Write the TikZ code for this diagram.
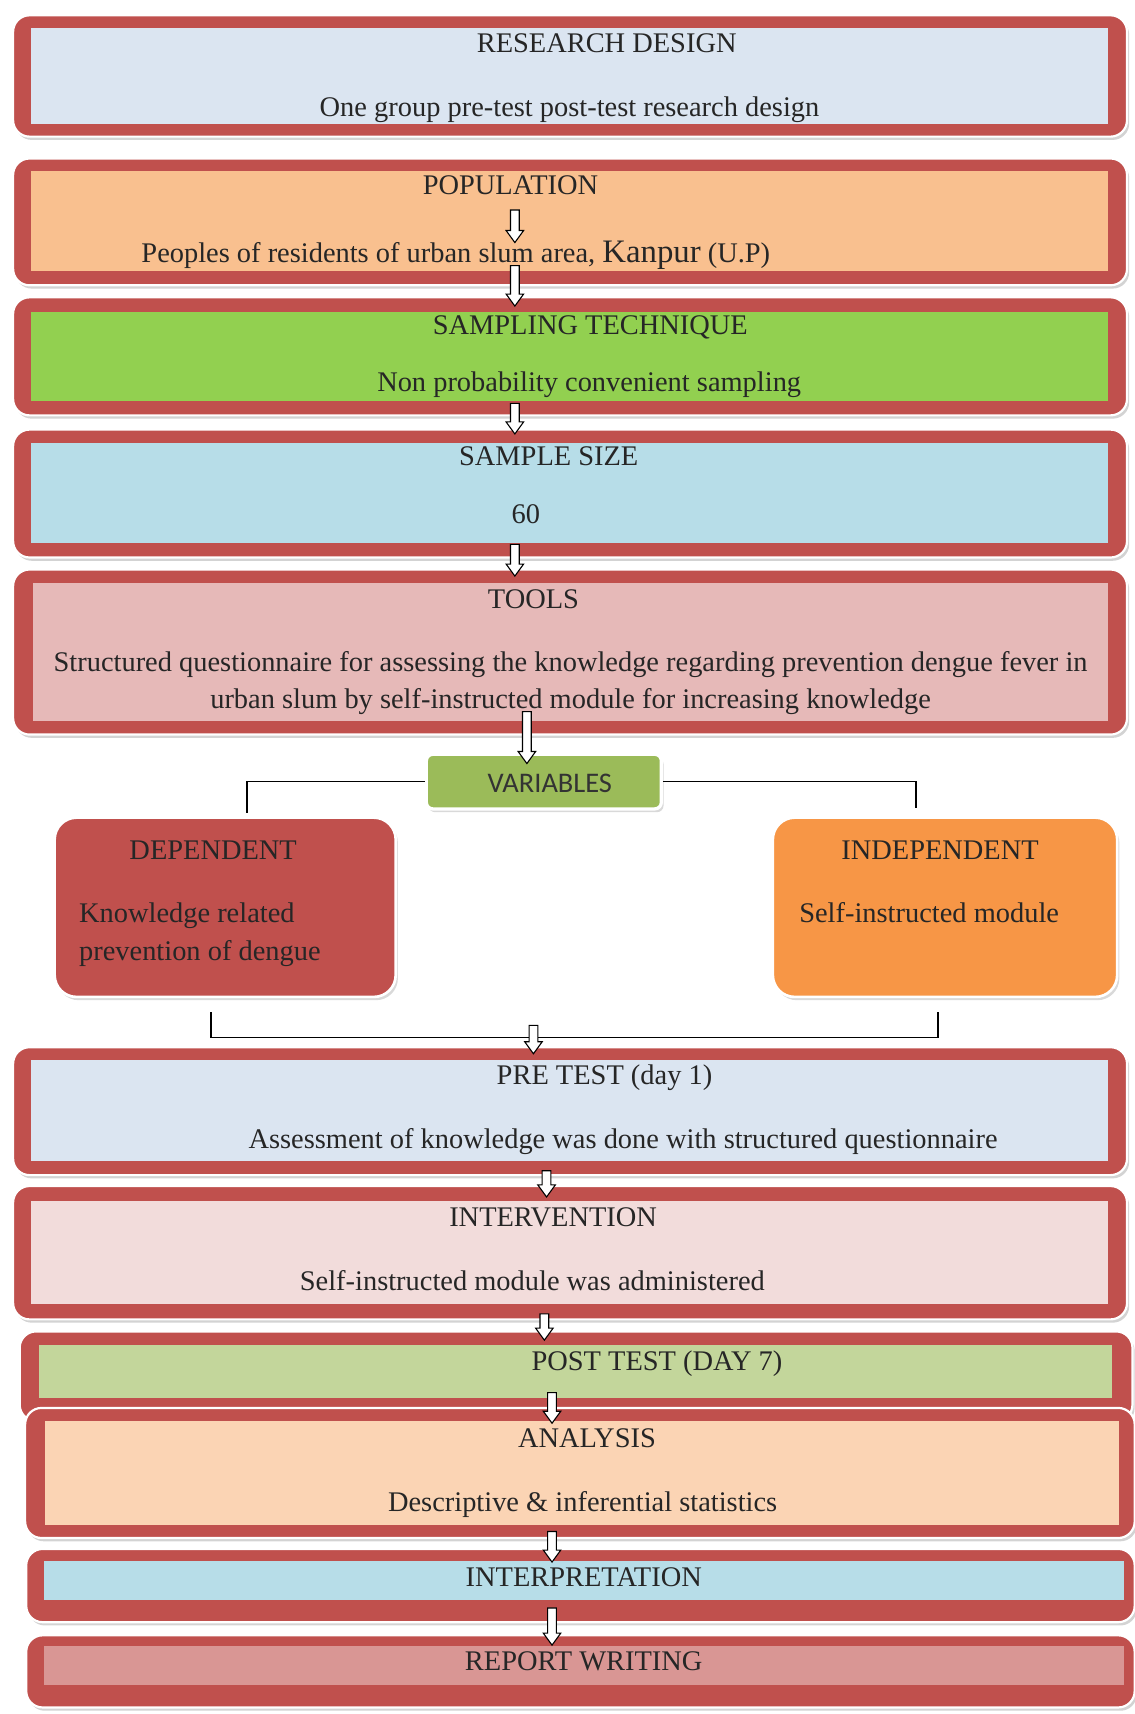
\documentclass[tikz,border=0pt]{standalone}
\usepackage{fontspec}
\setmainfont{Liberation Serif}
\newfontfamily\calibri{Carlito}
\usepackage{tikz}
\usetikzlibrary{calc}
\usetikzlibrary{fit}
\usetikzlibrary{shadows}
\usetikzlibrary{positioning}
\definecolor{boxred}{HTML}{C0504D}
\definecolor{rdfill}{HTML}{DBE5F1}
\definecolor{popfill}{HTML}{F9C08F}
\definecolor{sampfill}{HTML}{92D050}
\definecolor{sizefill}{HTML}{B7DDE8}
\definecolor{toolfill}{HTML}{E6B9B8}
\definecolor{varfill}{HTML}{9BBB59}
\definecolor{indfill}{HTML}{F79646}
\definecolor{intfill}{HTML}{F2DCDB}
\definecolor{postfill}{HTML}{C3D69B}
\definecolor{anafill}{HTML}{FBD4B4}
\definecolor{repfill}{HTML}{D99694}

\begin{document}
\begin{tikzpicture}[x=0.5pt,y=-0.5pt,
    outer/.style={rectangle,rounded corners=7.5pt,fill=boxred,draw=white,line width=1pt,inner sep=0pt,
      drop shadow={shadow xshift=1pt,shadow yshift=-1.5pt,opacity=0.35}},
    inner/.style={rectangle,inner sep=0pt},
    txt/.style={inner sep=0pt,font=\fontsize{13}{15}\selectfont,text=black!85,text height=9pt,text depth=2.7pt},
    side/.style={rectangle,rounded corners=10pt,draw=white,line width=1.2pt,inner sep=0pt,
      drop shadow={shadow xshift=1pt,shadow yshift=-1.5pt,opacity=0.3}},
    link/.style={draw=black,line width=0.6pt},
    hollow/.style={draw=black,fill=white,line width=0.5pt,
      to path={let \p1=(\tikztostart), \p2=(\tikztotarget) in
        (\x1-2pt,\y1) -- (\x2-2pt,\y2+5.5pt) -- (\x2-4pt,\y2+5.5pt) -- (\x2,\y2)
        -- (\x2+4pt,\y2+5.5pt) -- (\x2+2pt,\y2+5.5pt) -- (\x1+2pt,\y1) -- cycle}}]
  \useasboundingbox (0,0) rectangle (1038,1568);
  % main column
  \node[outer,fit={(12,14) (1031,125)}] (rd) {};
  \node[inner,fill=rdfill,fit={(28,26) (1014,113)}] (rdf) {};
  \node[txt] (rdt) at (555,42) {RESEARCH DESIGN};
  \node[txt] (rdd) at (521,100) {One group pre-test post-test research design};

  \node[outer,fit={(12,145) (1031,261)}] (pop) {};
  \node[inner,fill=popfill,fit={(28,156) (1014,248)}] (popf) {};
  \node[txt] (popt) at (467,172) {POPULATION};
  \node[txt] (popd) at (417,234) {Peoples of residents of urban slum area, {\fontsize{15}{15}\selectfont Kanpur} (U.P)};

  \node[outer,fit={(12,272) (1031,380)}] (samp) {};
  \node[inner,fill=sampfill,fit={(28,285) (1014,367)}] (sampf) {};
  \node[txt] (sampt) at (540,300) {SAMPLING TECHNIQUE};
  \node[txt] (sampd) at (539,352) {Non probability convenient sampling};

  \node[outer,fit={(12,393) (1031,510)}] (size) {};
  \node[inner,fill=sizefill,fit={(28,405) (1014,497)}] (sizef) {};
  \node[txt] (sizet) at (502,420) {SAMPLE SIZE};
  \node[txt] (sized) at (481,473) {60};

  \node[outer,fit={(12,521) (1031,672)}] (tools) {};
  \node[inner,fill=toolfill,fit={(30,533) (1014,660)}] (toolsf) {};
  \node[txt] (toolst) at (488,550) {TOOLS};
  \node[txt] (toolsd) at (522,608) {Structured questionnaire for assessing the knowledge regarding prevention dengue fever in};
  \node[txt] (toolse) at (522,642) {urban slum by self-instructed module for increasing knowledge};

  % variables
  \node[rectangle,rounded corners=3pt,fill=varfill,draw=white,line width=1.5pt,inner sep=0pt,
    drop shadow={shadow xshift=1pt,shadow yshift=-1.5pt,opacity=0.3},fit={(390,690) (605,740)}] (vars) {};
  \node[inner sep=0pt,font=\calibri\fontsize{13}{15}\selectfont,text=black!80] (varst) at (503,717) {VARIABLES};

  \node[side,fill=boxred,fit={(50,748) (362,912)}] (dep) {};
  \node[txt] (dept) at (195,780) {DEPENDENT};
  \node[txt,anchor=west] (depd) at (72,838) {Knowledge related};
  \node[txt,anchor=west] (depe) at (72,872) {prevention of dengue};

  \node[side,fill=indfill,fit={(707,748) (1022,912)}] (indep) {};
  \node[txt] (indept) at (860,780) {INDEPENDENT};
  \node[txt] (indepd) at (850,838) {Self-instructed module};

  \path[link] (vars.west) -| ([shift={(20,-3)}]dep.north);
  \path[link] (vars.east) -| ([shift={(-26.5,-8)}]indep.north);
  \path[link] ([shift={(-13,13)}]dep.south) -- ([shift={(-13,36)}]dep.south)
    -- ([shift={(-6.5,36)}]indep.south) -- ([shift={(-6.5,13)}]indep.south);

  \node[outer,fit={(12,958) (1031,1075)}] (pre) {};
  \node[inner,fill=rdfill,fit={(28,970) (1014,1062)}] (pref) {};
  \node[txt] (pret) at (553,986) {PRE TEST (day 1)};
  \node[txt] (pred) at (570,1044) {Assessment of knowledge was done with structured questionnaire};

  \node[outer,fit={(12,1085) (1031,1207)}] (int) {};
  \node[inner,fill=intfill,fit={(28,1099) (1014,1193)}] (intf) {};
  \node[txt] (intt) at (506,1116) {INTERVENTION};
  \node[txt] (intd) at (487,1174) {Self-instructed module was administered};

  \node[outer,fit={(18,1218) (1036,1300)}] (post) {};
  \node[inner,fill=postfill,fit={(36,1230) (1017,1279)}] (postf) {};
  \node[txt] (postt) at (601,1247) {POST TEST (DAY 7)};

  \node[outer,fit={(23,1288) (1038,1407)}] (ana) {};
  \node[inner,fill=anafill,fit={(41,1300) (1024,1395)}] (anaf) {};
  \node[txt] (anat) at (537,1318) {ANALYSIS};
  \node[txt] (anad) at (533,1376) {Descriptive \& inferential statistics};

  \node[outer,fit={(24,1417) (1038,1484)}] (interp) {};
  \node[inner,fill=sizefill,fit={(40,1428) (1028,1464)}] (interpf) {};
  \node[txt] (interpt) at (534,1445) {INTERPRETATION};

  \node[outer,fit={(24,1496) (1038,1562)}] (rep) {};
  \node[inner,fill=repfill,fit={(40,1506) (1028,1541)}] (repf) {};
  \node[txt] (rept) at (534,1522) {REPORT WRITING};

  % hollow arrows
  \draw[hollow] ([shift={(4,8)}]popt.south) to ([shift={(54,0)}]popd.north);
  \draw[hollow] ([shift={(-50.5,-19)}]pop.south) to ([shift={(-50.5,9)}]samp.north);
  \draw[hollow] ([shift={(-50.5,-12)}]samp.south) to ([shift={(-50.5,5)}]size.north);
  \draw[hollow] ([shift={(-50.5,-13)}]size.south) to ([shift={(-50.5,7)}]tools.north);
  \draw[hollow] ([shift={(-39.5,-22)}]tools.south) to ([shift={(-15.5,10)}]vars.north);
  \draw[hollow] ([shift={(-33.5,-19)}]pre.north) to ([shift={(-33.5,7)}]pre.north);
  \draw[hollow] ([shift={(-21.5,-5)}]pre.south) to ([shift={(-21.5,11)}]int.north);
  \draw[hollow] ([shift={(-23.5,-6)}]int.south) to ([shift={(-29,9)}]post.north);
  \draw[hollow] ([shift={(-22,-27)}]post.south) to ([shift={(-25.5,15)}]ana.north);
  \draw[hollow] ([shift={(-25.5,-7)}]ana.south) to ([shift={(-26,13)}]interp.north);
  \draw[hollow] ([shift={(-26,-14)}]interp.south) to ([shift={(-26,10)}]rep.north);
\end{tikzpicture}
\end{document}
